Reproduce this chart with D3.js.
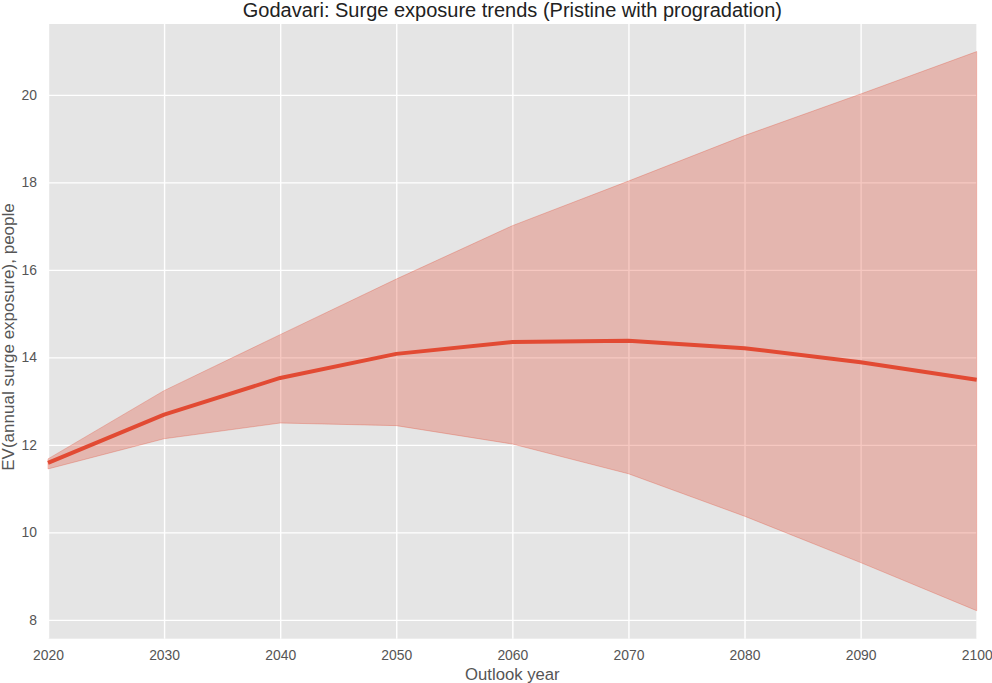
<!DOCTYPE html>
<html>
<head>
<meta charset="utf-8">
<script src="https://cdn.jsdelivr.net/npm/d3@7/dist/d3.min.js"></script>
<style>
  body { margin: 0; background: #fff; }
  text { font-family: "Liberation Sans", Arial, sans-serif; }
</style>
</head>
<body>
<div id="chart"></div>
<script>
// outlook years
const years = [2020, 2030, 2040, 2050, 2060, 2070, 2080, 2090, 2100];
// expected annual surge exposure (people)
const meanValues = [11.59, 12.69, 13.53, 14.08, 14.35, 14.38, 14.21, 13.89, 13.49];
const upperValues = [11.68, 13.24, 14.52, 15.79, 17.01, 18.03, 19.07, 20.02, 20.99];
const lowerValues = [11.45, 12.14, 12.50, 12.44, 12.02, 11.34, 10.37, 9.31, 8.21];
const yTicks = [8, 10, 12, 14, 16, 18, 20];

const width = 992, height = 683;
const margin = {top: 24, right: 15.3, bottom: 44.3, left: 48};

const svg = d3.select("#chart")
  .append("svg")
  .attr("width", width)
  .attr("height", height);

const x = d3.scaleLinear()
  .domain([2020, 2100])
  .range([margin.left, width - margin.right]);

const y = d3.scaleLinear()
  .domain([7.57, 21.62])
  .range([height - margin.bottom, margin.top]);

// panel background
svg.append("rect")
  .attr("x", margin.left)
  .attr("y", margin.top)
  .attr("width", width - margin.left - margin.right)
  .attr("height", height - margin.top - margin.bottom)
  .attr("fill", "#e5e5e5");

// grid
svg.append("g")
  .attr("transform", `translate(0,${height - margin.bottom})`)
  .call(d3.axisBottom(x).tickValues(years).tickSize(-(height - margin.top - margin.bottom)).tickFormat(""))
  .call(g => g.select(".domain").remove())
  .call(g => g.selectAll("line").attr("stroke", "#fff").attr("stroke-width", 1.4));

svg.append("g")
  .attr("transform", `translate(${margin.left},0)`)
  .call(d3.axisLeft(y).tickValues(yTicks).tickSize(-(width - margin.left - margin.right)).tickFormat(""))
  .call(g => g.select(".domain").remove())
  .call(g => g.selectAll("line").attr("stroke", "#fff").attr("stroke-width", 1.4));

const rows = years.map((yr, i) => ({year: yr, mean: meanValues[i], lo: lowerValues[i], hi: upperValues[i]}));

// uncertainty band
const area = d3.area()
  .x(d => x(d.year))
  .y0(d => y(d.lo))
  .y1(d => y(d.hi));

svg.append("path")
  .datum(rows)
  .attr("d", area)
  .attr("fill", "#E24A33")
  .attr("fill-opacity", 0.3)
  .attr("stroke", "#E24A33")
  .attr("stroke-opacity", 0.3)
  .attr("stroke-width", 1);

// mean line
const line = d3.line()
  .x(d => x(d.year))
  .y(d => y(d.mean));

svg.append("path")
  .datum(rows)
  .attr("d", line)
  .attr("fill", "none")
  .attr("stroke", "#E24A33")
  .attr("stroke-width", 4)
  .attr("stroke-linejoin", "round");

// tick labels
svg.append("g")
  .attr("transform", `translate(0,${height - margin.bottom})`)
  .call(d3.axisBottom(x).tickValues(years).tickSize(0).tickPadding(11).tickFormat(d3.format("d")))
  .call(g => g.select(".domain").remove())
  .call(g => g.selectAll("text").attr("fill", "#555").style("font-size", "13.9px"));

svg.append("g")
  .attr("transform", `translate(${margin.left},0)`)
  .call(d3.axisLeft(y).tickValues(yTicks).tickSize(0).tickPadding(11).tickFormat(d3.format("d")))
  .call(g => g.select(".domain").remove())
  .call(g => g.selectAll("text").attr("fill", "#555").style("font-size", "13.9px"));

// axis labels
svg.append("text")
  .attr("x", (margin.left + width - margin.right) / 2)
  .attr("y", 679.5)
  .attr("text-anchor", "middle")
  .attr("fill", "#555")
  .style("font-size", "16.7px")
  .text("Outlook year");

svg.append("text")
  .attr("transform", `translate(14,337) rotate(-90)`)
  .attr("text-anchor", "middle")
  .attr("fill", "#555")
  .style("font-size", "17px")
  .text("EV(annual surge exposure), people");

// title
svg.append("text")
  .attr("x", (margin.left + width - margin.right) / 2)
  .attr("y", 17)
  .attr("text-anchor", "middle")
  .attr("fill", "#222")
  .style("font-size", "20px")
  .text("Godavari: Surge exposure trends (Pristine with progradation)");
</script>
</body>
</html>
